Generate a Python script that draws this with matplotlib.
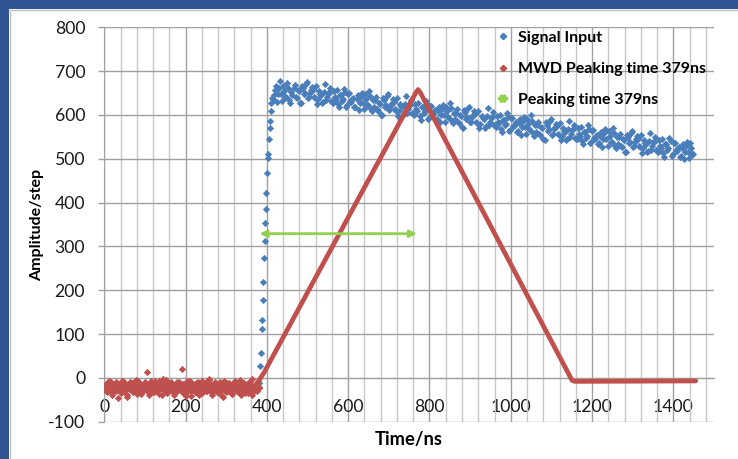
import matplotlib
matplotlib.use('Agg')
import matplotlib.pyplot as plt
import numpy as np
from matplotlib.patches import FancyArrowPatch, Rectangle
from matplotlib.legend_handler import HandlerPatch
from matplotlib.lines import Line2D

plt.rcParams['font.family'] = ['Lato', 'DejaVu Sans']
plt.rcParams['axes.unicode_minus'] = False

# ---------------- data ----------------
# MWD baseline noise, two interleaved sample sets (3 ns spacing each)
mwd_noise_start_a = 0
mwd_noise_start_b = 1.5
mwd_noise_step = 3
mwd_noise_a = [
    -18, -25, -12, -30, -8, -22, -35, -15, -20, -28,
    -10, -45, -24, -17, -32, -6, -21, -27, -14, -38,
    -19, -9, -26, -31, -16, -23, -4, -29, -20, -13,
    -36, -18, -25, -11, -22, 13, -30, -15, -7, -27,
    -21, -33, -12, -19, -26, -8, -24, -40, -17, -14,
    -28, -5, -22, -31, -18, -10, -25, -35, -16, -20,
    -29, -9, -23, -14, 20, -27, -19, -42, -12, -24,
    -6, -30, -17, -21, -33, -11, -26, -15, -38, -20,
    -8, -28, -23, -13, -31, -18, -3, -25, -35, -16,
    -22, -10, -29, -19, -27, -14, -40, -21, -7, -24,
    -32, -17, -12, -26, -20, -36, -9, -23, -15, -30,
    -18, -5, -28, -22, -13, -34, -19, -25, -11, -27,
    -16, -2, -24, -30, -14, -21, -8, -20,
]
mwd_noise_b = [
    -23, -14, -33, -19, -27, -9, -38, -21, -16, -29,
    -12, -25, -20, -35, -7, -24, -30, -17, -43, -13,
    -26, -20, -11, -32, -22, -18, -37, -6, -28, -15,
    -24, -31, -19, -10, -27, -21, -40, -14, -25, -33,
    -17, -8, -29, -23, -36, -12, -20, -26, -3, -30,
    -19, -34, -15, -24, -11, -28, -22, -39, -18, -9,
    -27, -16, -31, -21, -13, -36, -25, -7, -29, -19,
    -23, -41, -14, -26, -18, -32, -10, -24, -28, -15,
    -35, -20, -12, -30, -22, -4, -27, -17, -38, -21,
    -13, -26, -33, -19, -9, -29, -24, -44, -16, -22,
    -11, -31, -25, -18, -36, -14, -28, -6, -23, -32,
    -20, -15, -39, -26, -12, -29, -21, -34, -17, -10,
    -27, -40, -18, -24, -13, -31, -22,
]

# MWD trapezoid (peaking time 379 ns)
mwd_line_t = [381, 386, 393, 766, 772, 778, 1151, 1158, 1455]
mwd_line_v = [-5, 2, 12, 650, 658, 650, -6, -8, -7]

# Signal input: rising edge
rise_t = [381, 383, 385, 387, 389, 390, 391.5, 393, 394.5, 396, 397.5, 399,
          400.5, 402, 403.5, 405, 406.5, 408, 409.5, 411]
rise_v = [-12, 26, 57, 112, 133, 177, 218, 273, 313, 354, 386, 422,
          468, 501, 512, 545, 570, 586, 608, 628]

# Signal input: plateau, two interleaved sample sets (5 ns spacing each)
plateau_start_a = 413
plateau_start_b = 415.5
plateau_step = 5
plateau_a = [
    638, 645, 665, 647, 678, 632, 655, 641, 662, 628,
    646, 669, 638, 654, 627, 662, 651, 675, 641, 656,
    658, 638, 626, 654, 646, 630, 671, 641, 651, 632,
    628, 641, 656, 617, 645, 636, 652, 622, 649, 630,
    639, 619, 646, 628, 651, 613, 636, 622, 643, 609,
    618, 641, 610, 626, 599, 634, 623, 647, 613, 628,
    630, 610, 598, 626, 618, 602, 643, 613, 623, 604,
    600, 613, 628, 589, 617, 608, 624, 594, 621, 602,
    611, 591, 618, 600, 623, 585, 608, 594, 615, 581,
    590, 613, 582, 598, 571, 606, 595, 619, 585, 600,
    602, 582, 570, 598, 590, 574, 615, 585, 595, 576,
    572, 585, 600, 561, 589, 580, 596, 566, 593, 574,
    583, 563, 590, 572, 595, 557, 580, 566, 587, 553,
    562, 585, 554, 570, 543, 578, 567, 591, 557, 572,
    574, 554, 542, 570, 562, 546, 587, 557, 567, 548,
    544, 557, 572, 533, 561, 552, 568, 538, 565, 546,
    555, 535, 562, 544, 567, 529, 552, 538, 559, 525,
    534, 557, 526, 542, 515, 550, 539, 563, 529, 544,
    546, 526, 514, 542, 534, 518, 559, 529, 539, 520,
    516, 529, 544, 505, 533, 524, 540, 510, 537, 518,
    527, 507, 534, 516, 539, 501, 524, 510,
]
plateau_b = [
    636, 656, 630, 661, 647, 666, 642, 674, 633, 652,
    661, 641, 656, 628, 667, 647, 671, 639, 651, 664,
    641, 666, 636, 648, 627, 653, 633, 650, 662, 630,
    654, 637, 625, 645, 632, 660, 619, 648, 631, 636,
    617, 637, 611, 642, 628, 647, 623, 655, 614, 633,
    633, 613, 628, 600, 639, 619, 643, 611, 623, 636,
    613, 638, 608, 620, 599, 625, 605, 622, 634, 602,
    626, 609, 597, 617, 604, 632, 591, 620, 603, 608,
    589, 609, 583, 614, 600, 619, 595, 627, 586, 605,
    605, 585, 600, 572, 611, 591, 615, 583, 595, 608,
    585, 610, 580, 592, 571, 597, 577, 594, 606, 574,
    598, 581, 569, 589, 576, 604, 563, 592, 575, 580,
    561, 581, 555, 586, 572, 591, 567, 599, 558, 577,
    577, 557, 572, 544, 583, 563, 587, 555, 567, 580,
    557, 582, 552, 564, 543, 569, 549, 566, 578, 546,
    570, 553, 541, 561, 548, 576, 535, 564, 547, 552,
    533, 553, 527, 558, 544, 563, 539, 571, 530, 549,
    549, 529, 544, 516, 555, 535, 559, 527, 539, 552,
    529, 554, 524, 536, 515, 541, 521, 538, 550, 518,
    542, 525, 513, 533, 520, 548, 507, 536, 519, 524,
    505, 525, 499, 530, 516, 535, 511,
]

# Peaking-time arrow
arrow_t_start = 382
arrow_t_end = 769
arrow_level = 329

legend_labels = ['Signal Input', 'MWD Peaking time 379ns', 'Peaking time 379ns']
x_major_ticks = [0, 200, 400, 600, 800, 1000, 1200, 1400]
y_ticks = [-100, 0, 100, 200, 300, 400, 500, 600, 700, 800]

# ---------------- style ----------------
BLUE = '#4A7EBB'
RED = '#C0504D'
GREEN = '#92D050'
FRAME = '#2F5597'
GRID_MAJOR = '#A0A0A0'
GRID_MINOR = '#C8C8C8'
MS = 3.2

W, H = 738, 459
fig = plt.figure(figsize=(W / 100, H / 100), dpi=100)
fig.patch.set_facecolor('white')

# blue frame strips + grey chart border
fig.patches.append(Rectangle((0, 1 - 9 / H), 1, 9 / H, transform=fig.transFigure,
                             facecolor=FRAME, edgecolor='none', zorder=0))
fig.patches.append(Rectangle((0, 0), 9 / W, 1, transform=fig.transFigure,
                             facecolor=FRAME, edgecolor='none', zorder=0))
fig.lines.append(Line2D([9.5 / W, 1], [1 - 9.5 / H, 1 - 9.5 / H], transform=fig.transFigure,
                        color='#BFBFBF', lw=1))
fig.lines.append(Line2D([9.5 / W, 9.5 / W], [0, 1 - 9.5 / H], transform=fig.transFigure,
                        color='#BFBFBF', lw=1))

ax_l, ax_r, ax_t, ax_b = 104.3, 714, 27.3, 421.7
ax = fig.add_axes([ax_l / W, 1 - ax_b / H, (ax_r - ax_l) / W, (ax_b - ax_t) / H])
ax.set_facecolor('white')

mwd_t_a = [mwd_noise_start_a + mwd_noise_step * i for i in range(len(mwd_noise_a))]
mwd_t_b = [mwd_noise_start_b + mwd_noise_step * i for i in range(len(mwd_noise_b))]
plat_t_a = [plateau_start_a + plateau_step * i for i in range(len(plateau_a))]
plat_t_b = [plateau_start_b + plateau_step * i for i in range(len(plateau_b))]
sig_t = rise_t + plat_t_a + plat_t_b
sig_v = rise_v + plateau_a + plateau_b
mwd_t = mwd_t_a + mwd_t_b
mwd_v = mwd_noise_a + mwd_noise_b

ax.plot(sig_t, sig_v, ls='none', marker='D', ms=MS, color=BLUE, mec=BLUE, mew=0.5, zorder=3)
ax.plot(mwd_line_t, mwd_line_v, color=RED, lw=3.4, solid_joinstyle='round',
        solid_capstyle='round', zorder=4)
ax.plot(mwd_t, mwd_v, ls='none', marker='D', ms=MS, color=RED, mec=RED, mew=0.5, zorder=4)

ax.annotate('', xy=(arrow_t_end, arrow_level), xytext=(arrow_t_start, arrow_level),
            arrowprops=dict(arrowstyle='<|-|>', color=GREEN, lw=2, mutation_scale=10,
                            shrinkA=0, shrinkB=0), zorder=5)

ax.set_xlim(0, 1500)
ax.set_ylim(-100, 800)
ax.set_yticks(y_ticks)
ax.set_xticks(x_major_ticks)
ax.set_xticks(np.arange(40, 1481, 40), minor=True)
ax.grid(which='major', axis='both', color=GRID_MAJOR, lw=1, zorder=0)
ax.grid(which='minor', axis='x', color=GRID_MINOR, lw=1, zorder=0)
ax.set_axisbelow(True)

for s in ['top', 'right']:
    ax.spines[s].set_visible(False)
ax.spines['left'].set_color(GRID_MAJOR)
ax.spines['bottom'].set_position(('data', 0))
ax.spines['bottom'].set_color(GRID_MAJOR)

ax.tick_params(axis='y', length=4.3, width=1, color=GRID_MAJOR, pad=9.5,
               labelsize=12.7, labelcolor='#1a1a1a')
ax.tick_params(axis='x', which='both', length=0, pad=15.5, labelsize=12.7,
               labelcolor='#1a1a1a')

ax.set_xlabel('Time/ns', fontsize=13.2, fontweight='bold')
ax.xaxis.set_label_coords(0.5, -0.024)
ax.set_ylabel('Amplitude/step', fontsize=11.5, fontweight='bold')
ax.yaxis.set_label_coords(-0.099, 0.5)


def make_legend_arrow(legend, orig_handle, xdescent, ydescent, width, height, fontsize):
    return FancyArrowPatch((-xdescent, height / 2 - ydescent),
                           (width - xdescent, height / 2 - ydescent),
                           arrowstyle='<|-|>', mutation_scale=10, lw=2.2, color=GREEN)


h1 = Line2D([], [], ls='none', marker='D', ms=MS, color=BLUE)
h2 = Line2D([], [], ls='none', marker='D', ms=MS, color=RED)
h3 = FancyArrowPatch((0, 0), (1, 0), color=GREEN, lw=2.2)
leg = ax.legend([h1, h2, h3], legend_labels, loc='upper left',
                bbox_to_anchor=(0.6375, 0.991), frameon=False,
                prop=dict(weight='bold', size=11.5), handlelength=1.25,
                handletextpad=0.3, labelspacing=1.06, borderpad=0, borderaxespad=0,
                handler_map={FancyArrowPatch: HandlerPatch(patch_func=make_legend_arrow)})
leg.set_zorder(10)

fig.savefig('out.png', dpi=100)
